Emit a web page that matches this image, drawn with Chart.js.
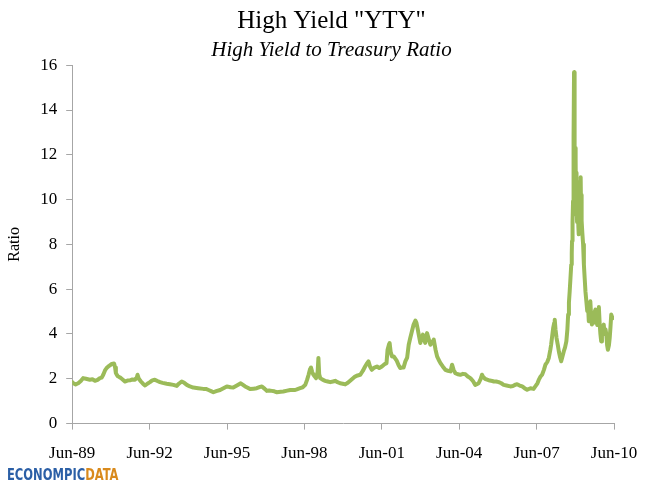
<!DOCTYPE html>
<html>
<head>
<meta charset="utf-8">
<script src="https://cdn.jsdelivr.net/npm/chart.js@4/dist/chart.umd.min.js"></script>
<style>
html, body { margin: 0; padding: 0; background: #fff; }
#wrap { position: relative; width: 646px; height: 486px; }
#logo { position: absolute; left: 7px; top: 465px; font: bold 16px "Liberation Sans Narrow", "DejaVu Sans Condensed", sans-serif; color: #2b5fa6; transform: scale(0.8, 1); transform-origin: left top; white-space: nowrap; }
#logo span { color: #d98a1c; }
</style>
</head>
<body>
<div id="wrap">
  <canvas id="chart" width="646" height="486"></canvas>
  <div id="logo">ECONOMPIC<span>DATA</span></div>
</div>
<script>
// dates as decimal years, ratio
const years = [
  1989.42, 1989.46, 1989.55, 1989.65, 1989.75, 1989.84, 1989.95, 1990.10, 1990.20, 1990.30,
  1990.40, 1990.49, 1990.56, 1990.62, 1990.70, 1990.75, 1990.85, 1990.95, 1991.04, 1991.08,
  1991.11, 1991.18, 1991.27, 1991.36, 1991.46, 1991.56, 1991.66, 1991.75, 1991.85, 1991.92,
  1991.95, 1992.00, 1992.08, 1992.16, 1992.24, 1992.33, 1992.43, 1992.52, 1992.62, 1992.72,
  1992.82, 1992.92, 1993.08, 1993.20, 1993.34, 1993.47, 1993.55, 1993.66, 1993.76, 1993.86,
  1993.98, 1994.11, 1994.30, 1994.50, 1994.60, 1994.70, 1994.80, 1994.89, 1995.00, 1995.15,
  1995.28, 1995.41, 1995.55, 1995.66, 1995.80, 1995.95, 1996.05, 1996.12, 1996.22, 1996.31,
  1996.45, 1996.57, 1996.70, 1996.77, 1996.88, 1996.96, 1997.05, 1997.15, 1997.25, 1997.35,
  1997.50, 1997.60, 1997.75, 1997.87, 1998.06, 1998.15, 1998.25, 1998.35, 1998.45, 1998.52,
  1998.58, 1998.64, 1998.67, 1998.72, 1998.77, 1998.82, 1998.87, 1998.93, 1998.96, 1998.99,
  1999.03, 1999.12, 1999.22, 1999.32, 1999.42, 1999.52, 1999.61, 1999.70, 1999.80, 1999.90,
  2000.00, 2000.10, 2000.19, 2000.28, 2000.38, 2000.48, 2000.58, 2000.68, 2000.77, 2000.85,
  2000.90, 2000.96, 2001.03, 2001.13, 2001.23, 2001.32, 2001.42, 2001.52, 2001.60, 2001.64,
  2001.70, 2001.72, 2001.76, 2001.81, 2001.88, 2001.94, 2002.00, 2002.07, 2002.13, 2002.20,
  2002.26, 2002.33, 2002.40, 2002.46, 2002.52, 2002.58, 2002.65, 2002.72, 2002.76, 2002.80,
  2002.86, 2002.91, 2002.96, 2003.01, 2003.06, 2003.10, 2003.17, 2003.23, 2003.30, 2003.36,
  2003.43, 2003.50, 2003.56, 2003.62, 2003.69, 2003.78, 2003.88, 2003.98, 2004.08, 2004.14,
  2004.20, 2004.27, 2004.36, 2004.46, 2004.56, 2004.66, 2004.75, 2004.85, 2004.95, 2005.04,
  2005.10, 2005.17, 2005.25, 2005.30, 2005.34, 2005.42, 2005.50, 2005.60, 2005.70, 2005.76,
  2005.85, 2005.95, 2006.05, 2006.14, 2006.25, 2006.40, 2006.50, 2006.60, 2006.66, 2006.76,
  2006.86, 2006.95, 2007.05, 2007.18, 2007.30, 2007.38, 2007.45, 2007.50, 2007.57, 2007.63,
  2007.70, 2007.76, 2007.83, 2007.89, 2007.95, 2007.98, 2008.02, 2008.06, 2008.10, 2008.12,
  2008.15, 2008.19, 2008.24, 2008.28, 2008.33, 2008.37, 2008.42, 2008.47, 2008.52, 2008.57,
  2008.61, 2008.64, 2008.67, 2008.70, 2008.73, 2008.76, 2008.78, 2008.79, 2008.81, 2008.83,
  2008.84, 2008.85, 2008.86, 2008.868, 2008.876, 2008.885, 2008.895, 2008.905, 2008.915, 2008.925,
  2008.935, 2008.945, 2008.955, 2008.965, 2008.975, 2008.985, 2008.995, 2009.01, 2009.02, 2009.035,
  2009.05, 2009.065, 2009.08, 2009.095, 2009.11, 2009.125, 2009.14, 2009.155, 2009.17, 2009.19,
  2009.22, 2009.25, 2009.28, 2009.31, 2009.35, 2009.38, 2009.41, 2009.44, 2009.47, 2009.50,
  2009.53, 2009.56, 2009.60, 2009.63, 2009.67, 2009.70, 2009.73, 2009.77, 2009.80, 2009.83,
  2009.86, 2009.89, 2009.92, 2009.95, 2009.98, 2010.02, 2010.05, 2010.09, 2010.12, 2010.15,
  2010.18, 2010.22, 2010.25, 2010.28, 2010.31, 2010.35, 2010.39
];
const ratio = [
  1.85, 1.80, 1.75, 1.80, 1.90, 2.03, 2.00, 1.96, 1.98, 1.91,
  1.95, 2.03, 2.05, 2.18, 2.40, 2.48, 2.58, 2.66, 2.68, 2.50,
  2.25, 2.12, 2.06, 1.98, 1.88, 1.92, 1.93, 1.97, 1.96, 2.05,
  2.18, 2.00, 1.88, 1.78, 1.70, 1.78, 1.85, 1.93, 1.96, 1.90,
  1.85, 1.82, 1.78, 1.76, 1.73, 1.68, 1.78, 1.88, 1.82, 1.73,
  1.66, 1.61, 1.58, 1.55, 1.55, 1.50, 1.45, 1.40, 1.45, 1.50,
  1.58, 1.66, 1.62, 1.61, 1.70, 1.80, 1.72, 1.66, 1.60, 1.54,
  1.56, 1.58, 1.64, 1.66, 1.55, 1.46, 1.48, 1.46, 1.44, 1.40,
  1.42, 1.43, 1.47, 1.50, 1.50, 1.54, 1.58, 1.62, 1.73, 1.95,
  2.18, 2.45, 2.51, 2.30, 2.18, 2.10, 2.03, 2.30, 2.93, 2.20,
  2.03, 1.96, 1.91, 1.88, 1.85, 1.88, 1.91, 1.85, 1.80, 1.78,
  1.75, 1.82, 1.91, 2.00, 2.10, 2.15, 2.18, 2.35, 2.55, 2.70,
  2.78, 2.55, 2.40, 2.50, 2.55, 2.48, 2.55, 2.65, 2.70, 3.30,
  3.55, 3.60, 3.20, 3.00, 3.00, 2.90, 2.80, 2.60, 2.48, 2.50,
  2.50, 2.78, 2.95, 3.52, 3.82, 4.10, 4.42, 4.60, 4.50, 4.27,
  3.90, 3.60, 3.80, 3.97, 3.75, 3.60, 4.04, 3.80, 3.52, 3.60,
  3.75, 3.30, 3.00, 2.85, 2.70, 2.55, 2.40, 2.36, 2.33, 2.63,
  2.40, 2.25, 2.20, 2.18, 2.22, 2.20, 2.10, 2.03, 1.90, 1.73,
  1.76, 1.80, 2.00, 2.18, 2.10, 2.00, 1.96, 1.92, 1.90, 1.88,
  1.88, 1.85, 1.80, 1.73, 1.70, 1.66, 1.68, 1.74, 1.76, 1.70,
  1.66, 1.58, 1.51, 1.58, 1.55, 1.68, 1.80, 1.95, 2.10, 2.18,
  2.40, 2.63, 2.75, 2.93, 3.30, 3.52, 3.90, 4.27, 4.50, 4.64,
  4.20, 3.82, 3.50, 3.22, 2.95, 2.78, 3.00, 3.22, 3.40, 3.67,
  4.20, 4.87, 5.40, 5.91, 6.50, 7.10, 7.60, 8.15, 9.00, 9.94,
  12.5, 10.5, 12.8, 15.69, 14.2, 12.0, 13.2, 10.8, 12.3, 9.6,
  11.8, 9.4, 11.2, 9.3, 10.6, 9.0, 10.8, 9.6, 10.2, 8.8,
  8.45, 9.4, 9.94, 9.0, 10.5, 11.0, 9.6, 10.2, 9.05, 8.5,
  8.0, 7.10, 6.5, 5.91, 5.4, 5.02, 5.3, 4.57, 5.0, 5.46,
  4.8, 4.42, 4.9, 4.5, 5.0, 5.09, 4.6, 4.4, 4.9, 5.2,
  4.5, 4.0, 3.67, 4.0, 4.2, 4.42, 4.0, 4.2, 3.97, 3.5,
  3.3, 3.5, 3.82, 4.3, 4.87, 4.7, 4.72
];
const tickYears = [1989.417, 1992.417, 1995.417, 1998.417, 2001.417, 2004.417, 2007.417, 2010.417];
const tickLabels = ['Jun-89', 'Jun-92', 'Jun-95', 'Jun-98', 'Jun-01', 'Jun-04', 'Jun-07', 'Jun-10'];

const serif = "'Liberation Serif', 'DejaVu Serif', serif";
const axisGrey = '#a6a6a6';

const points = years.map((y, i) => ({ x: y, y: ratio[i] }));

// title sits a little right of the canvas centre in the original
const shiftTitles = {
  id: 'shiftTitles',
  afterLayout(chart) {
    chart.boxes.forEach(b => {
      if (b.options && typeof b.options.text === 'string' && b.position === 'top') {
        b.left += 22;
        b.right += 22;
      }
    });
  }
};

new Chart(document.getElementById('chart'), {
  type: 'line',
  data: {
    datasets: [{
      data: points,
      borderColor: '#9bbb59',
      borderWidth: 4,
      pointRadius: 0,
      tension: 0,
      borderJoinStyle: 'round',
      borderCapStyle: 'round'
    }]
  },
  plugins: [shiftTitles],
  options: {
    responsive: false,
    animation: false,
    layout: { padding: { left: 5, right: 32, top: 6, bottom: 8 } },
    plugins: {
      legend: { display: false },
      tooltip: { enabled: false },
      title: {
        display: true,
        text: 'High Yield "YTY"',
        color: '#000',
        font: { family: serif, size: 25, weight: 'normal' },
        padding: { top: 0, bottom: 1 }
      },
      subtitle: {
        display: true,
        text: 'High Yield to Treasury Ratio',
        color: '#000',
        font: { family: serif, size: 21, style: 'italic' },
        padding: { top: 1, bottom: 2 }
      }
    },
    scales: {
      x: {
        type: 'linear',
        min: tickYears[0],
        max: tickYears[tickYears.length - 1],
        afterBuildTicks: s => { s.ticks = tickYears.map(v => ({ value: v })); },
        afterFit: s => { s.paddingRight = 0; s.paddingLeft = 0; },
        ticks: {
          autoSkip: false,
          maxRotation: 0,
          color: '#000',
          font: { family: serif, size: 17 },
          padding: 14,
          callback: (v, i) => tickLabels[i]
        },
        grid: { drawOnChartArea: false, tickLength: 6, color: axisGrey },
        border: { color: axisGrey }
      },
      y: {
        min: 0,
        max: 16,
        ticks: {
          stepSize: 2,
          color: '#000',
          font: { family: serif, size: 17 },
          padding: 9
        },
        grid: { drawOnChartArea: false, tickLength: 6, color: axisGrey },
        border: { color: axisGrey },
        title: {
          display: true,
          text: 'Ratio',
          color: '#000',
          font: { family: serif, size: 16 },
          padding: { top: 0, bottom: 7 }
        }
      }
    }
  }
});
</script>
</body>
</html>
